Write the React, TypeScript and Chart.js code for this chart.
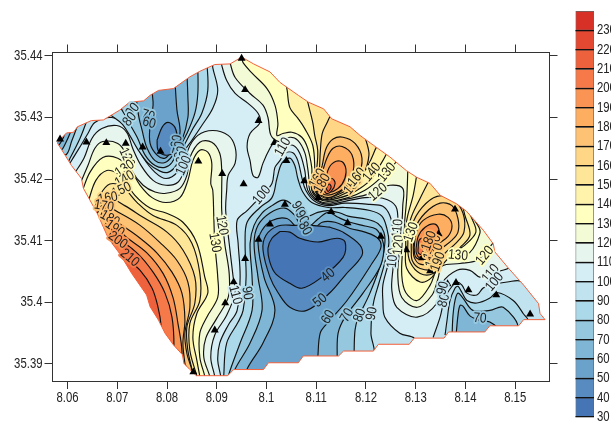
import React, { useEffect, useRef } from "react";
import { Chart, registerables } from "chart.js";

Chart.register(...registerables);

// All contour vertices: pairs of (lon-8)*1e4, (lat-35)*1e4
const bandColors = ["#4575b4","#588bc0","#6ba2cb","#7fb6d6","#95c7df","#abd9e9","#c0e3ef","#d5eef5","#e6f5ed","#f3fad6","#ffffbf","#fff3ac","#fee699","#fed686","#fdc274","#fdae61","#f99455","#f67a49","#ee613d","#e34832","#d73027"];
const colorbarLevels = [30,40,50,60,70,80,90,100,110,120,130,140,150,160,170,180,190,200,210,220,230,240];
const xTickValues = [8.06,8.07,8.08,8.09,8.1,8.11,8.12,8.13,8.14,8.15];
const yTickValues = [35.39,35.4,35.41,35.42,35.43,35.44];

const outline = [580,4260,598,4275,612,4276,620,4285,648,4295,672,4296,705,4312,725,4325,753,4327,766,4336,783,4344,813,4347,846,4366,866,4375,896,4386,927,4387,950,4398,974,4387,1007,4374,1027,4357,1064,4336,1084,4325,1115,4314,1131,4298,1168,4285,1188,4271,1215,4255,1248,4236,1281,4214,1302,4203,1329,4193,1349,4174,1382,4160,1402,4148,1436,4117,1456,4095,1459,4082,1487,4055,1517,4028,1547,3998,1550,3982,1560,3972,1517,3972,1507,3962,1449,3962,1439,3952,1366,3952,1357,3942,1297,3942,1287,3932,1225,3932,1215,3921,1155,3921,1145,3913,1074,3913,1064,3902,1004,3902,994,3891,934,3891,922,3881,859,3881,846,3891,834,3901,831,3915,813,3931,796,3950,783,3971,766,3993,759,4012,729,4047,705,4079,682,4104,660,4144,632,4185,628,4201,608,4222,595,4239,580,4258];

const west110 = [613,4208,633,4234,649,4266,669,4282,699,4287,719,4276,731,4250,748,4222,772,4198,798,4190,822,4195,834,4214,842,4247,862,4271,892,4279,923,4271,937,4252,937,4226,923,4206,920,4182,918,4149,925,4096,933,4041,937,4016,920,3979,896,3947,888,3911,896,3880,898,3870,725,3898,585,4182];
const west120 = [625,4192,641,4222,655,4250,671,4261,701,4258,717,4242,729,4214,752,4190,776,4179,798,4177,826,4185,840,4206,846,4235,866,4260,890,4260,906,4242,910,4214,910,4187,910,4149,916,4096,925,4047,923,4008,900,3974,878,3942,874,3911,886,3880,888,3870,725,3898,595,4174];
const west130 = [629,4179,645,4211,671,4235,701,4234,725,4217,746,4190,770,4170,798,4162,826,4170,842,4198,852,4230,866,4247,882,4244,890,4226,888,4193,892,4182,894,4141,896,4097,902,4041,902,4008,880,3976,866,3950,866,3911,876,3880,878,3870,725,3898,605,4157];
const west140 = [641,4162,657,4198,679,4214,701,4209,715,4198,735,4174,766,4153,798,4145,832,4130,860,4096,876,4041,882,4015,860,3982,852,3943,860,3906,866,3880,868,3870,725,3898,615,4141];
const west150 = [651,4146,665,4174,685,4192,711,4187,740,4162,772,4141,820,4125,850,4096,866,4047,866,4003,846,3966,846,3922,860,3880,862,3870,725,3898,625,4125];
const west160 = [657,4141,681,4169,715,4157,752,4138,800,4114,832,4085,856,4041,856,3999,840,3960,842,3922,852,3885,854,3874,715,3906,625,4109];
const west170 = [661,4133,679,4154,705,4145,746,4125,786,4097,820,4068,842,4033,846,3992,836,3950,840,3917,850,3890,850,3877,715,3906,635,4101];
const west180 = [671,4117,685,4136,709,4125,746,4104,780,4080,810,4049,830,4015,836,3971,832,3934,836,3901,838,3893,715,3914,645,4085];
const west190 = [681,4104,695,4120,721,4104,760,4080,792,4047,812,4008,822,3966,830,3922,826,3909,705,3930,655,4068];
const west200 = [687,4093,701,4101,740,4080,772,4049,796,4015,810,3976,814,3929,810,3919,705,3939,665,4052];
const west210 = [697,4083,715,4073,746,4052,770,4023,782,3992,788,3963,786,3952,705,3955,675,4052];

const north110 = [908,4396,910,4385,920,4360,937,4339,963,4323,983,4307,987,4292,967,4274,961,4252,967,4230,973,4206,983,4203,993,4226,1007,4250,1015,4258,1027,4252,1053,4255,1067,4242,1077,4214,1079,4201,1083,4182,1099,4166,1124,4159,1158,4164,1198,4170,1234,4169,1260,4156,1264,4125,1260,4089,1254,4052,1252,4020,1262,3992,1303,3976,1343,3999,1353,4031,1383,4052,1409,4052,1429,4041,1449,4047,1486,4055,1500,4065,1429,4166,1268,4247,1128,4328,1007,4393];
const north120 = [925,4396,927,4388,937,4365,967,4339,993,4320,1003,4300,1009,4271,1025,4261,1047,4268,1063,4263,1077,4243,1083,4217,1085,4203,1087,4182,1101,4167,1124,4161,1158,4167,1198,4174,1224,4182,1248,4190,1274,4185,1274,4157,1272,4125,1268,4089,1264,4044,1272,4008,1303,3992,1333,4012,1345,4039,1353,4059,1389,4063,1423,4068,1439,4080,1459,4099,1480,4109,1268,4247,1128,4328,1007,4393];
const north130 = [951,4396,953,4389,971,4372,1001,4347,1017,4320,1023,4290,1021,4271,1033,4274,1051,4276,1071,4268,1083,4250,1091,4219,1091,4203,1091,4182,1103,4169,1124,4164,1164,4170,1198,4182,1224,4198,1244,4214,1262,4229,1268,4239,1148,4328,1027,4401];
const north140 = [1035,4364,1041,4347,1047,4316,1063,4299,1077,4282,1093,4255,1097,4219,1095,4201,1093,4182,1106,4170,1124,4166,1164,4174,1188,4185,1208,4198,1228,4222,1240,4239,1244,4250,1148,4320];
const north150 = [1079,4341,1083,4325,1093,4292,1097,4271,1103,4247,1101,4217,1097,4198,1097,4182,1108,4170,1124,4167,1164,4179,1182,4193,1204,4222,1218,4247,1222,4258,1148,4315];
const north160 = [1132,4309,1122,4292,1112,4274,1108,4242,1106,4214,1101,4198,1099,4182,1110,4172,1124,4169,1162,4182,1174,4190,1194,4206,1206,4239,1200,4263,1192,4279,1158,4309];
const north170 = [1112,4222,1120,4250,1134,4265,1154,4268,1178,4258,1192,4234,1184,4206,1162,4188,1138,4174,1124,4170,1110,4174,1101,4185,1106,4205,1112,4222];
const north180 = [1112,4211,1122,4235,1134,4250,1152,4253,1172,4239,1174,4211,1158,4187,1138,4177,1124,4174,1112,4177,1106,4188,1112,4211];
const north190 = [1118,4198,1126,4219,1140,4229,1154,4227,1160,4211,1152,4192,1134,4180,1122,4179,1112,4182,1112,4192,1118,4198];
const north200 = [1114,4185,1122,4195,1132,4201,1138,4193,1130,4180,1120,4177,1114,4185];
const north210 = [1120,4185,1126,4192,1130,4187,1124,4180,1120,4185];

const east130 = [1284,4218,1284,4211,1282,4170,1278,4133,1274,4089,1272,4044,1280,4016,1303,4003,1329,4028,1343,4055,1363,4071,1385,4076,1409,4081,1429,4112,1425,4125,1349,4214];
const east140 = [1303,4211,1295,4174,1282,4133,1280,4089,1282,4055,1309,4033,1333,4041,1351,4065,1375,4081,1399,4093,1421,4114,1413,4136,1369,4214];
const east150 = [1329,4201,1309,4169,1289,4133,1284,4089,1289,4065,1309,4047,1335,4047,1365,4071,1389,4089,1409,4109,1399,4141,1393,4157,1359,4201];
const east160 = [1291,4089,1293,4125,1313,4154,1343,4172,1375,4167,1395,4145,1397,4114,1381,4096,1359,4080,1339,4055,1309,4055,1293,4068,1291,4089];
const east170 = [1295,4089,1299,4120,1319,4145,1349,4161,1373,4157,1385,4136,1385,4114,1373,4101,1349,4085,1333,4065,1309,4062,1297,4073,1295,4089];
const east180 = [1297,4089,1301,4114,1315,4133,1345,4143,1365,4138,1373,4124,1365,4107,1343,4093,1325,4075,1309,4070,1299,4075,1297,4089];
const east190 = [1301,4089,1305,4107,1319,4122,1339,4127,1347,4115,1333,4099,1319,4081,1307,4073,1301,4081,1301,4089];
const east200 = [1305,4089,1307,4101,1315,4104,1319,4093,1311,4078,1305,4081,1305,4089];

const nw100 = [601,4221,621,4247,641,4274,655,4292,689,4300,719,4287,735,4263,752,4235,776,4211,798,4201,820,4211,832,4242,850,4263,870,4287,892,4315,902,4344,892,4381,890,4396,786,4373,665,4328,545,4279];
const nw90 = [880,4393,882,4344,870,4307,850,4279,830,4247,818,4222,802,4211,786,4213,762,4226,740,4250,725,4271,709,4290,681,4308,675,4318,766,4377];
const nw80 = [862,4383,862,4339,856,4307,840,4274,822,4247,810,4227,796,4219,776,4222,756,4239,740,4268,719,4299,707,4325,786,4377];
const nw70 = [840,4373,842,4333,842,4300,830,4263,812,4239,796,4227,776,4230,760,4250,750,4279,742,4308,742,4336,796,4373];
const nw60 = [816,4360,820,4312,826,4274,810,4247,796,4234,780,4239,766,4258,766,4287,772,4320,772,4352,796,4368];
const nw50 = [780,4263,790,4284,802,4292,816,4284,820,4263,812,4243,796,4239,782,4247,780,4263];
const tip90 = [639,4295,625,4266,605,4234,597,4224,545,4263];
const tip80 = [621,4289,609,4263,595,4239,545,4263];
const tip70 = [609,4282,597,4260,585,4247,545,4271];
const tip60 = [597,4279,589,4263,577,4253,545,4279];

const mid100 = [908,3870,908,3880,902,3906,906,3934,923,3963,941,3987,947,4041,943,4096,941,4133,961,4149,991,4174,1011,4193,1017,4219,1027,4230,1037,4242,1053,4243,1063,4230,1071,4203,1079,4182,1097,4164,1124,4157,1158,4161,1208,4159,1234,4156,1248,4141,1254,4117,1252,4089,1244,4060,1234,4028,1234,4003,1238,3976,1268,3950,1297,3942,1297,3930,1108,3882];
const mid90 = [914,3870,914,3880,920,3934,943,3968,953,3987,959,4041,957,4096,961,4130,987,4154,1011,4170,1021,4201,1031,4226,1047,4234,1057,4222,1063,4201,1073,4179,1091,4162,1124,4154,1158,4154,1208,4149,1232,4140,1242,4120,1246,4096,1238,4065,1226,4031,1216,4003,1212,3982,1210,3950,1212,3914,1067,3882];
const mid80 = [1176,3914,1178,3955,1184,3974,1208,4015,1232,4068,1238,4096,1236,4114,1224,4128,1202,4135,1164,4140,1148,4145,1124,4149,1103,4146,1077,4138,1063,4145,1051,4159,1033,4166,1011,4157,991,4145,975,4125,967,4096,971,4041,971,3987,947,3934,923,3880,923,3870,1047,3866];
const mid70 = [1142,3909,1144,3950,1158,3976,1194,4015,1228,4057,1236,4085,1232,4104,1220,4119,1198,4124,1168,4130,1144,4138,1124,4146,1103,4135,1087,4124,1069,4125,1057,4141,1037,4153,1007,4145,983,4125,975,4096,983,4041,991,3987,967,3934,937,3892,935,3880,1037,3857];
const mid60 = [1103,3909,1108,3950,1122,3966,1162,4003,1212,4063,1230,4089,1224,4104,1198,4114,1168,4120,1138,4130,1112,4130,1087,4114,1063,4120,1041,4136,1011,4133,991,4117,983,4096,995,4041,1017,3987,993,3934,963,3895,961,3884,1037,3866];
const mid50 = [1128,4122,1154,4114,1188,4093,1192,4076,1158,4044,1128,4016,1081,3987,1047,3992,1023,4016,1007,4041,993,4085,999,4109,1023,4124,1057,4125,1091,4125,1128,4122];
const mid40 = [1027,4115,1011,4104,1003,4088,1007,4065,1019,4046,1047,4031,1071,4023,1108,4039,1154,4073,1158,4098,1142,4104,1103,4098,1067,4104,1047,4114,1027,4115];

const se100 = [1335,3943,1349,3976,1359,4008,1375,4028,1383,4033,1393,4028,1403,4015,1423,4012,1435,4023,1449,4028,1484,4033,1514,4033,1590,3955,1429,3922];
const se90 = [1359,3947,1363,3971,1369,4003,1379,4023,1385,4026,1393,4016,1403,4003,1423,3999,1449,4007,1463,4016,1496,4003,1516,3982,1526,3968,1449,3930];
const se80 = [1373,3945,1375,3979,1379,4003,1385,4015,1395,4007,1415,3987,1449,3987,1476,3992,1504,3958,1429,3930];
const se70 = [1381,3945,1385,3979,1389,3995,1395,3994,1409,3978,1429,3971,1449,3968,1465,3955,1409,3930];

const contours = [
  { level: 110, side: "hi", pts: west110 }, { level: 110, side: "hi", pts: north110 },
  { level: 120, side: "hi", pts: west120 }, { level: 120, side: "hi", pts: north120 },
  { level: 130, side: "hi", pts: west130 }, { level: 130, side: "hi", pts: north130 }, { level: 130, side: "hi", pts: east130 },
  { level: 140, side: "hi", pts: west140 }, { level: 140, side: "hi", pts: north140 }, { level: 140, side: "hi", pts: east140 },
  { level: 150, side: "hi", pts: west150 }, { level: 150, side: "hi", pts: north150 }, { level: 150, side: "hi", pts: east150 },
  { level: 160, side: "hi", pts: west160 }, { level: 160, side: "hi", pts: north160 }, { level: 160, side: "hi", pts: east160 },
  { level: 170, side: "hi", pts: west170 }, { level: 170, side: "hi", pts: north170 }, { level: 170, side: "hi", pts: east170 },
  { level: 180, side: "hi", pts: west180 }, { level: 180, side: "hi", pts: north180 }, { level: 180, side: "hi", pts: east180 },
  { level: 190, side: "hi", pts: west190 }, { level: 190, side: "hi", pts: north190 }, { level: 190, side: "hi", pts: east190 },
  { level: 200, side: "hi", pts: west200 }, { level: 200, side: "hi", pts: north200 }, { level: 200, side: "hi", pts: east200 },
  { level: 210, side: "hi", pts: west210 }, { level: 210, side: "hi", pts: north210 },
  { level: 100, side: "lo", pts: nw100 }, { level: 100, side: "lo", pts: mid100 }, { level: 100, side: "lo", pts: se100 },
  { level: 90, side: "lo", pts: nw90 }, { level: 90, side: "lo", pts: mid90 }, { level: 90, side: "lo", pts: se90 }, { level: 90, side: "lo", pts: tip90 },
  { level: 80, side: "lo", pts: nw80 }, { level: 80, side: "lo", pts: mid80 }, { level: 80, side: "lo", pts: se80 }, { level: 80, side: "lo", pts: tip80 },
  { level: 70, side: "lo", pts: nw70 }, { level: 70, side: "lo", pts: mid70 }, { level: 70, side: "lo", pts: se70 }, { level: 70, side: "lo", pts: tip70 },
  { level: 60, side: "lo", pts: nw60 }, { level: 60, side: "lo", pts: mid60 }, { level: 60, side: "lo", pts: tip60 },
  { level: 50, side: "lo", pts: nw50 }, { level: 50, side: "lo", pts: mid50 },
  { level: 40, side: "lo", pts: mid40 },
];

const stations = [585,4265,638,4260,678,4259,717,4258,751,4252,787,4245,821,4245,863,4229,911,4209,954,4192,994,4182,1037,4159,1007,4127,950,4396,957,4345,984,4295,1016,4259,1040,4230,984,4102,957,4071,934,4033,917,3999,896,3955,853,3887,1076,4197,1104,4170,1130,4147,1163,4129,1379,4151,1230,4107,1281,4085,1313,4072,1329,4051,1346,4111,1322,4093,1332,4085,1364,4030,1381,4032,1406,4020,1462,4012,1530,3981];

// text, band behind the text, lon code, lat code, rotation in degrees
const contourLabels: [string, number, number, number, number][] = [
  ["120",9,719,4235,65],["130",10,715,4217,-35],["140",11,715,4200,-30],["150",12,709,4182,-25],["160",13,681,4169,-10],["170",14,673,4156,10],["180",14,685,4136,30],["190",15,695,4120,35],["200",16,701,4101,35],["210",17,725,4072,40],
  ["90",5,731,4312,-50],["80",5,725,4297,-50],["70",4,762,4303,15],["60",3,764,4291,15],
  ["60",3,820,4261,-80],["70",3,824,4250,-75],["80",4,828,4242,-70],["90",5,832,4234,-65],["100",6,834,4222,-65],
  ["110",8,1033,4252,-60],["100",7,991,4174,-50],["120",9,910,4125,80],["130",10,896,4097,80],["110",7,937,4012,75],["90",5,961,4015,80],
  ["160",13,1103,4201,-60],["180",14,1112,4193,-60],["150",13,1174,4190,-50],["160",12,1182,4203,-50],["140",11,1212,4211,-50],["130",10,1242,4211,-50],["120",9,1224,4179,-40],
  ["90",5,1063,4153,60],["90",4,1071,4138,60],["80",3,1077,4120,60],
  ["40",1,1124,4044,-40],["50",2,1108,4003,-40],["60",3,1124,3976,-60],["70",4,1162,3979,-60],["80",5,1188,3979,-70],["90",6,1212,3982,-80],
  ["100",7,1254,4072,-85],["110",8,1264,4120,-85],["120",9,1266,4093,-85],["130",10,1291,4114,-70],
  ["140",12,1335,4072,-70],["150",13,1331,4085,-70],["160",14,1337,4094,-70],["170",14,1341,4080,-70],["180",15,1327,4100,-70],["190",13,1345,4066,-70],
  ["130",10,1385,4076,5],["120",10,1439,4076,-50],["110",8,1451,4047,-50],["100",7,1459,4033,-50],["80",6,1357,4003,-75],["90",6,1355,4023,-75],["70",4,1429,3974,5],
];

const X_MIN = 8.05698, X_MAX = 8.1569, Y_MIN = 35.38724, Y_MAX = 35.44055;
const SANS = '"Liberation Sans",Arial,sans-serif';
const toPts = (flat: number[]) => {
  const out: { x: number; y: number }[] = [];
  for (let i = 0; i < flat.length; i += 2) out.push({ x: 8 + flat[i] / 1e4, y: 35 + flat[i + 1] / 1e4 });
  return out;
};
const fmt = (v: any) => String(+Number(v).toFixed(2));

// The reference uses a tall, narrow face: draw real text squeezed horizontally.
const narrowText = (ctx: any, text: string, x: number, y: number, align: string, rot = 0, squeeze = 0.81) => {
  ctx.save();
  ctx.translate(x, y);
  if (rot) ctx.rotate((rot * Math.PI) / 180);
  ctx.scale(squeeze, 1);
  ctx.textAlign = align;
  ctx.textBaseline = "middle";
  ctx.fillText(text, 0, 0);
  ctx.restore();
};

const labelPlugin = {
  id: "contourLabels",
  afterDatasetsDraw(chart: any) {
    const { ctx, scales } = chart;
    ctx.save();
    ctx.font = `14px ${SANS}`;
    ctx.lineJoin = "round";
    ctx.fillStyle = "#222";
    for (const [text, band, a, b, rot] of contourLabels) {
      ctx.save();
      ctx.translate(scales.x.getPixelForValue(8 + a / 1e4), scales.y.getPixelForValue(35 + b / 1e4));
      ctx.rotate((rot * Math.PI) / 180);
      ctx.scale(0.85, 1);
      ctx.textAlign = "center";
      ctx.textBaseline = "middle";
      ctx.strokeStyle = bandColors[band];
      ctx.lineWidth = 4;
      ctx.strokeText(text, 0, 0);
      ctx.fillText(text, 0, 0);
      ctx.restore();
    }
    ctx.restore();
  },
  afterDraw(chart: any) {
    const { ctx, scales, chartArea } = chart;
    ctx.save();
    ctx.font = `14px ${SANS}`;
    ctx.fillStyle = "#222";
    for (const v of xTickValues) narrowText(ctx, fmt(v), scales.x.getPixelForValue(v), chartArea.bottom + 17.5, "center");
    for (const v of yTickValues) narrowText(ctx, fmt(v), chartArea.left - 10, scales.y.getPixelForValue(v), "right");
    ctx.restore();
  },
};

const barLabelPlugin = {
  id: "barLabels",
  afterDraw(chart: any) {
    const { ctx, scales, chartArea } = chart;
    ctx.save();
    ctx.font = `14px ${SANS}`;
    ctx.fillStyle = "#222";
    for (const v of colorbarLevels.slice(0, -1)) narrowText(ctx, String(v), chartArea.right + 3, scales.y.getPixelForValue(v), "left");
    ctx.restore();
  },
};

const App = () => {
  const mapRef = useRef<HTMLCanvasElement>(null);
  const barRef = useRef<HTMLCanvasElement>(null);

  useEffect(() => {
    const painted: any[] = [];
    const frame = [
      { x: X_MIN - 0.01, y: Y_MAX + 0.01 }, { x: X_MAX + 0.01, y: Y_MAX + 0.01 },
      { x: X_MAX + 0.01, y: Y_MIN - 0.01 }, { x: X_MIN - 0.01, y: Y_MIN - 0.01 },
      { x: X_MIN - 0.01, y: Y_MAX + 0.01 },
    ];
    const edge = toPts(outline);
    painted.push({ data: frame.slice(0, 4), showLine: true, fill: "shape", backgroundColor: bandColors[7], borderWidth: 0, pointRadius: 0, tension: 0 });
    for (const c of contours) {
      const band = c.side === "hi" ? (c.level - 30) / 10 : (c.level - 40) / 10;
      painted.push({ data: toPts(c.pts), showLine: true, fill: "shape", backgroundColor: bandColors[band], borderColor: "#111", borderWidth: 1.15, pointRadius: 0, tension: 0.35 });
    }
    const mask = [...frame, edge[0], ...edge.slice().reverse(), edge[0], frame[0]];
    painted.push({ data: mask, showLine: true, fill: "shape", backgroundColor: "#ffffff", borderWidth: 0, pointRadius: 0, tension: 0 });
    painted.push({ data: [...edge, edge[0]], showLine: true, fill: false, borderColor: "#f2603a", borderWidth: 1, pointRadius: 0, tension: 0 });
    painted.push({ data: toPts(stations), showLine: false, pointStyle: "triangle", pointRadius: 4.6, backgroundColor: "#000", borderColor: "#000", borderWidth: 0 });
    painted.forEach((d, i) => (d.order = painted.length - i));

    const axisColor = "#333";
    const axis = (values: number[], min: number, max: number, position: string, size: number, horizontal: boolean) => ({
      type: "linear", position, min, max,
      afterBuildTicks: (s: any) => { s.ticks = values.map((value) => ({ value })); },
      afterFit: (s: any) => { if (horizontal) s.height = size; else s.width = size; },
      grid: { drawOnChartArea: false, drawTicks: true, tickLength: 8, tickColor: axisColor, lineWidth: 1 },
      border: { display: true, color: axisColor, width: 1, z: 2 },
      ticks: { display: false, autoSkip: false, callback: fmt },
    });

    const map = new Chart(mapRef.current as any, {
      type: "scatter",
      data: { datasets: painted },
      options: {
        animation: false, responsive: false,
        layout: { padding: 0 },
        plugins: { legend: { display: false }, tooltip: { enabled: false } },
        scales: {
          x: axis(xTickValues, X_MIN, X_MAX, "bottom", 43, true),
          y: axis(yTickValues, Y_MIN, Y_MAX, "left", 52.5, false),
          x2: axis(xTickValues, X_MIN, X_MAX, "top", 52.5, true),
          y2: axis(yTickValues, Y_MIN, Y_MAX, "right", 61.5, false),
        },
      } as any,
      plugins: [labelPlugin],
    } as any);

    const bar = new Chart(barRef.current as any, {
      type: "bar",
      data: {
        labels: [""],
        datasets: bandColors.map((color, i) => ({
          data: [[colorbarLevels[i], colorbarLevels[i + 1]]],
          backgroundColor: color, borderColor: "#666", borderWidth: 1, borderSkipped: false,
          barPercentage: 1, categoryPercentage: 1, grouped: false,
        })),
      },
      options: {
        animation: false, responsive: false,
        layout: { padding: { left: 5.5, top: 11, bottom: 7, right: 0 } },
        plugins: { legend: { display: false }, tooltip: { enabled: false } },
        scales: {
          x: { display: false },
          y: {
            position: "right", min: 30, max: 240,
            afterBuildTicks: (s: any) => { s.ticks = colorbarLevels.slice(0, -1).map((value) => ({ value })); },
            afterFit: (s: any) => { s.width = 17; },
            grid: { z: 1, color: "#111", lineWidth: 1.3, drawTicks: false },
            border: { display: false },
            ticks: { display: false, autoSkip: false },
          },
        },
      } as any,
      plugins: [barLabelPlugin],
    } as any);

    return () => { map.destroy(); bar.destroy(); };
  }, []);

  return (
    <div style={{ position: "fixed", left: 0, top: 0, width: 611, height: 424, overflow: "hidden", background: "#fff" }}>
      <canvas ref={mapRef} width={611} height={424} style={{ position: "absolute", left: 0, top: 0 }} />
      <canvas ref={barRef} width={41} height={424} style={{ position: "absolute", left: 570, top: 0 }} />
    </div>
  );
};

export default App;
